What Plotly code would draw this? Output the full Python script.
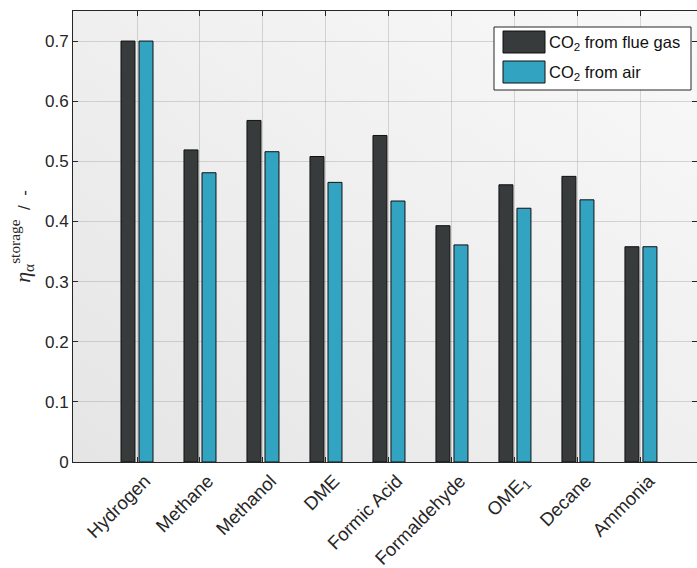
import base64
import plotly.graph_objects as go

# Storage efficiency per energy carrier, for two CO2 sources
carriers = ["Hydrogen", "Methane", "Methanol", "DME", "Formic Acid",
            "Formaldehyde", "OME<sub>1</sub>", "Decane", "Ammonia"]
flue_gas = [0.700, 0.519, 0.568, 0.508, 0.543, 0.393, 0.461, 0.475, 0.358]
air = [0.700, 0.481, 0.516, 0.465, 0.434, 0.361, 0.422, 0.436, 0.358]
series_names = ["CO<sub>2</sub> from flue gas", "CO<sub>2</sub> from air"]
y_ticks = [0, 0.1, 0.2, 0.3, 0.4, 0.5, 0.6, 0.7]

DARK = "#373b3b"
TEAL = "#33a3c2"
FONT = "Liberation Sans, Arial, sans-serif"
SERIF = "Liberation Serif, DejaVu Serif, serif"

W, H = 697, 568
ML, MR, MT, MB = 73, 0, 11, 106
PW, PH = W - ML - MR, H - MT - MB

x_idx = list(range(len(carriers)))
bar_w = 0.222

fig = go.Figure()
fig.add_trace(go.Bar(x=x_idx, y=flue_gas, name=series_names[0], width=bar_w,
                     offset=-0.254, marker=dict(color=DARK, line=dict(color="#111111", width=1))))
fig.add_trace(go.Bar(x=x_idx, y=air, name=series_names[1], width=bar_w,
                     offset=0.032, marker=dict(color=TEAL, line=dict(color="#111111", width=1))))

# soft diagonal shading behind the axes
svg = ('<svg xmlns="http://www.w3.org/2000/svg" width="100" height="100" preserveAspectRatio="none">'
       '<defs><linearGradient id="g" x1="0" y1="1" x2="1" y2="0">'
       '<stop offset="0" stop-color="#e5e5e5"/><stop offset="1" stop-color="#f9f9f9"/>'
       '</linearGradient></defs><rect width="100" height="100" fill="url(#g)"/></svg>')
bg_src = "data:image/svg+xml;base64," + base64.b64encode(svg.encode()).decode()


def px_x(p):
    return (p - ML) / PW


def px_y(p):
    return (H - MB - p) / PH


# legend box drawn with shapes
shapes = [
    dict(type="rect", xref="paper", yref="paper", x0=px_x(494), x1=px_x(691),
         y0=px_y(90), y1=px_y(27), line=dict(color="#262626", width=1), fillcolor="white", layer="above"),
    dict(type="rect", xref="paper", yref="paper", x0=px_x(503), x1=px_x(545),
         y0=px_y(53), y1=px_y(31), line=dict(color="#111111", width=1), fillcolor=DARK, layer="above"),
    dict(type="rect", xref="paper", yref="paper", x0=px_x(503), x1=px_x(545),
         y0=px_y(83), y1=px_y(61), line=dict(color="#111111", width=1), fillcolor=TEAL, layer="above"),
]
annotations = [
    dict(xref="paper", yref="paper", x=px_x(547), y=px_y(43), text=series_names[0],
         showarrow=False, xanchor="left", yanchor="middle", font=dict(family=FONT, size=16.5, color="#111111")),
    dict(xref="paper", yref="paper", x=px_x(547), y=px_y(73), text=series_names[1],
         showarrow=False, xanchor="left", yanchor="middle", font=dict(family=FONT, size=16.5, color="#111111")),
]

y_title = (f'<span style="font-family:{SERIF};font-style:italic;font-size:22px">η</span>'
           f'<span style="font-family:{SERIF};font-size:22px"><sub>α</sub><sup>storage</sup></span>'
           '  /  -')

fig.update_layout(
    width=W, height=H,
    margin=dict(l=ML, r=MR, t=MT, b=MB, pad=0),
    paper_bgcolor="white",
    plot_bgcolor="rgba(0,0,0,0)",
    barmode="overlay",
    showlegend=False,
    images=[dict(source=bg_src, xref="paper", yref="paper", x=0, y=1, sizex=1, sizey=1,
                 sizing="stretch", layer="below", xanchor="left", yanchor="top")],
    shapes=shapes,
    annotations=annotations,
    font=dict(family=FONT, size=17, color="#262626"),
)

fig.update_xaxes(
    range=[-1.016, 8.89],
    tickmode="array", tickvals=x_idx, ticktext=carriers, tickangle=-45,
    ticklabelshift=8,
    ticks="inside", ticklen=5, tickcolor="#262626",
    showline=True, linecolor="#262626", linewidth=1, mirror="ticks",
    showgrid=True, gridcolor="rgba(150,150,150,0.35)", gridwidth=1,
    tickfont=dict(family=FONT, size=18.5, color="#262626"),
    zeroline=False,
)
fig.update_yaxes(
    range=[0, 0.75],
    tickmode="array", tickvals=y_ticks, ticktext=[f"{v:g}" for v in y_ticks],
    ticks="inside", ticklen=5, tickcolor="#262626",
    showline=True, linecolor="#262626", linewidth=1, mirror="ticks",
    showgrid=True, gridcolor="rgba(150,150,150,0.35)", gridwidth=1,
    tickfont=dict(family=FONT, size=17, color="#262626"),
    zeroline=False,
    title=dict(text=y_title, font=dict(family=FONT, size=17, color="#262626"), standoff=10),
)

fig.write_html("out.html")
